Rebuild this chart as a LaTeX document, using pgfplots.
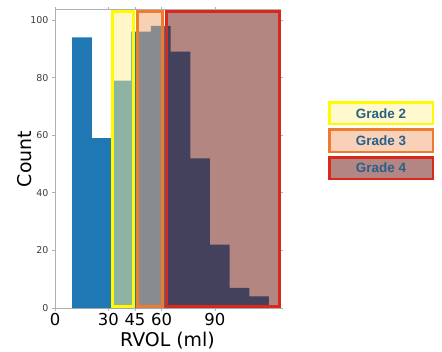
\documentclass[border=0pt]{standalone}
\usepackage{fontspec}
\setmainfont{DejaVu Sans}
\newfontfamily\legfont{Liberation Sans}
\usepackage{pgfplots}
\pgfplotsset{compat=1.18}
\definecolor{histblue}{RGB}{31,119,180}
\definecolor{axisgray}{RGB}{176,176,176}
\definecolor{ticktext}{RGB}{60,60,60}
\definecolor{yfillc}{RGB}{255,239,145}
\definecolor{ofillc}{RGB}{241,161,105}
\definecolor{rfillc}{RGB}{103,13,5}
\definecolor{ylinec}{RGB}{255,250,0}
\definecolor{olinec}{RGB}{236,124,48}
\definecolor{rlinec}{RGB}{218,40,28}
\definecolor{leg2}{RGB}{255,249,205}
\definecolor{leg3}{RGB}{248,209,184}
\definecolor{leg4}{RGB}{180,134,131}
\definecolor{legtext}{RGB}{40,96,135}
\begin{document}
\begin{tikzpicture}[x=1bp,y=1bp]
\path[use as bounding box] (0,0) rectangle (442,351);
\begin{axis}[
  at={(55bp,43bp)}, anchor=south west,
  scale only axis, width=225bp, height=298bp,
  xmin=0, xmax=126.6, ymin=0, ymax=103.5,
  axis line style={draw=axisgray, line width=1bp},
  xtick={0,30,45,60,90}, ytick={0,20,40,60,80,100},
  tick align=outside, major tick length=3bp,
  tick style={axisgray, line width=0.8bp},
  /pgf/number format/assume math mode=true,
  xticklabel style={font=\fontsize{16.5}{16.5}\selectfont, text=black, yshift=1bp},
  yticklabel style={font=\fontsize{9.5}{9.5}\selectfont, text=ticktext},
  xlabel={RVOL (ml)}, ylabel={Count},
  label style={font=\fontsize{19}{19}\selectfont},
  xlabel style={at={(axis description cs:0.5,-0.108)}, anchor=center},
  ylabel style={at={(axis description cs:-0.133,0.5)}, anchor=center},
  clip=false,
]
\addplot[ybar interval, fill=histblue, draw=none] coordinates {
(9.6,94) (20.7,59) (31.8,79) (42.8,96) (53.9,98) (65.0,89) (76.1,52) (87.2,22) (98.2,7) (109.3,4) (120.4,4)};
\addplot[fill=yfillc, fill opacity=0.5, draw=ylinec, draw opacity=1, line width=3bp] coordinates {(32.2,0.35) (44.2,0.35) (44.2,103.1) (32.2,103.1)} -- cycle;
\addplot[fill=ofillc, fill opacity=0.5, draw=olinec, draw opacity=1, line width=3bp] coordinates {(46.5,0.35) (60.5,0.35) (60.5,103.1) (46.5,103.1)} -- cycle;
\addplot[fill=rfillc, fill opacity=0.5, draw=rlinec, draw opacity=1, line width=3bp] coordinates {(62.6,0.35) (126.2,0.35) (126.2,103.1) (62.6,103.1)} -- cycle;
\end{axis}
\draw[draw=ylinec, line width=2.5bp, fill=leg2] (329.25,227.25) rectangle (432.75,248.75);
\draw[draw=olinec, line width=2.5bp, fill=leg3] (329.25,199.25) rectangle (432.75,221.75);
\draw[draw=rlinec, line width=2.5bp, fill=leg4] (329.25,172.25) rectangle (432.75,193.75);
\node[text=legtext, font=\legfont\bfseries\fontsize{13.5}{13.5}\selectfont] at (381,237) {Grade 2};
\node[text=legtext, font=\legfont\bfseries\fontsize{13.5}{13.5}\selectfont] at (381,210) {Grade 3};
\node[text=legtext, font=\legfont\bfseries\fontsize{13.5}{13.5}\selectfont] at (381,183) {Grade 4};
\end{tikzpicture}
\end{document}
